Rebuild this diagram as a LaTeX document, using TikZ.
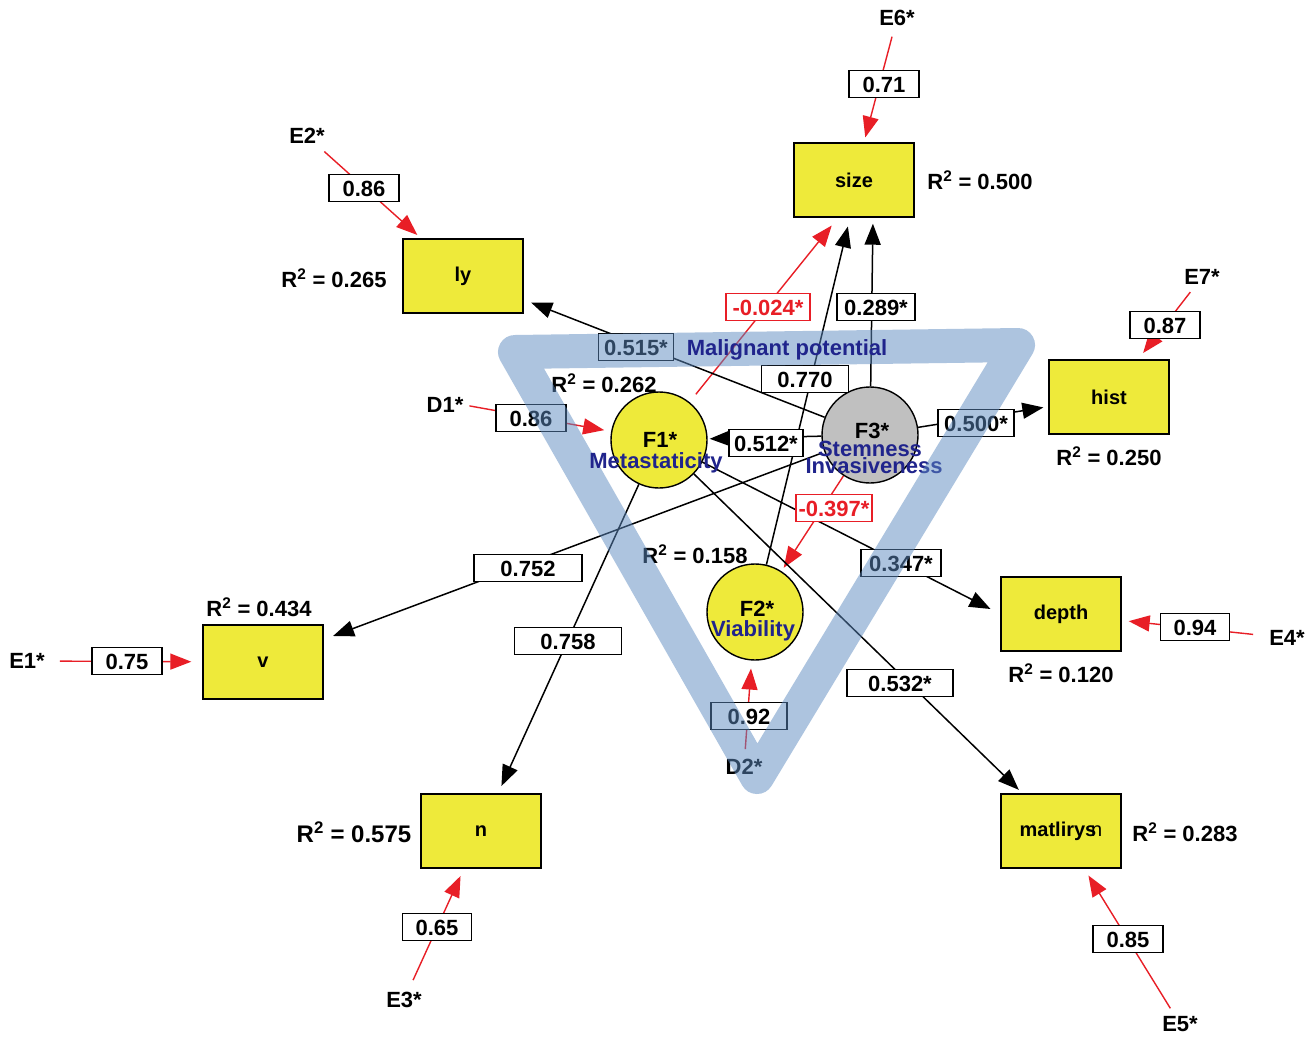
\documentclass[tikz,border=0pt]{standalone}
\usepackage{fontspec}
\setmainfont{Liberation Sans}
\usetikzlibrary{arrows.meta,calc,backgrounds}
\definecolor{myred}{RGB}{232,30,38}
\definecolor{myyel}{RGB}{238,234,58}
\definecolor{mygray}{RGB}{192,192,192}
\definecolor{mynavy}{RGB}{32,36,140}
\definecolor{myband}{RGB}{92,138,192}
\begin{document}
\begin{tikzpicture}[x=1pt,y=-1pt,
  font=\fontsize{22}{24}\selectfont\bfseries,
  box/.style={draw, line width=1.4pt, fill=myyel, minimum width=120pt, minimum height=74pt, inner sep=0pt, font=\fontsize{20}{22}\selectfont\bfseries},
  circ/.style={circle, draw, line width=1.4pt, minimum size=96pt, inner sep=0pt},
  lab/.style={draw, line width=1.3pt, fill=white, minimum height=27pt, inner sep=0pt, text height=16pt, text depth=0pt},
  rlab/.style={lab, draw=myred, text=myred},
  blk/.style={line width=1.5pt, -{Triangle[length=21pt,width=16pt]}},
  rd/.style={line width=1.4pt, color=myred, -{Triangle[length=21pt,width=16pt]}},
  txt/.style={inner sep=1pt},
  navy/.style={text=mynavy, inner sep=0pt},
]
\useasboundingbox (0,0) rectangle (1308,1036);

% observed variables
\node[box] (size) at (854,180) {size};
\node[box] (ly) at (463,276) {ly};
\node[box] (hist) at (1109,397) {hist};
\node[box] (depth) at (1061,614) {depth};
\node[box] (v) at (263,662) {v};
\node[box] (n) at (481,831) {n};
\node[box] (mat) at (1061,831) {matliry\rlap{s}\hspace{0.3em}{\mdseries n}};

% factors
\node[circ, fill=myyel] (F1) at (659,440) {};
\node[circ, fill=myyel] (F2) at (755,612) {};
\node[circ, fill=mygray] (F3) at (870,435) {};
\node[inner sep=0pt] (F1t) at (660,440) {F1*};
\node[inner sep=0pt] (F2t) at (757,609) {F2*};
\node[inner sep=0pt] (F3t) at (872,431) {F3*};

% error terms
\node[txt] (E6) at (897,18) {E6*};
\node[txt] (E2) at (307,136) {E2*};
\node[txt] (E7) at (1202,277) {E7*};
\node[txt] (E4) at (1287,638) {E4*};
\node[txt] (E5) at (1180,1024) {E5*};
\node[txt] (E3) at (404,1000) {E3*};
\node[txt] (E1) at (27,661) {E1*};
\node[txt] (D1) at (445,405) {D1*};

% R^2 labels
\node[txt] (rsize) at (980,180) {R\textsuperscript{2} = 0.500};
\node[txt] (rly) at (334,278) {R\textsuperscript{2} = 0.265};
\node[txt] (rhist) at (1109,456) {R\textsuperscript{2} = 0.250};
\node[txt] (rdepth) at (1061,673) {R\textsuperscript{2} = 0.120};
\node[txt] (rmat) at (1185,832) {R\textsuperscript{2} = 0.283};
\node[txt, font=\fontsize{24}{26}\selectfont\bfseries] (rn) at (354,832) {R\textsuperscript{2} = 0.575};
\node[txt] (rv) at (259,607) {R\textsuperscript{2} = 0.434};
\node[txt] (rF1) at (604,383) {R\textsuperscript{2} = 0.262};
\node[txt] (rF2) at (695,554) {R\textsuperscript{2} = 0.158};

\begin{pgfonlayer}{background}
\fill[white] (0,0) rectangle (1308,1036);
\draw[rd, shorten <=10pt, shorten >=10pt] (F1) -- ([xshift=-16pt]size.south);
\draw[blk, shorten >=9pt] (F2) -- ([xshift=-4pt]size.south);
\draw[blk, shorten >=6pt] (F3) -- ([xshift=19pt]size.south);
\draw[blk, shorten >=8pt] (F3) -- (ly);
\draw[blk, shorten >=5pt] (F3) -- (hist);
\draw[blk, shorten >=2pt] (F3) -- (F1);
\draw[rd, shorten >=4pt] (F3) -- (F2);
\draw[blk, shorten <=4pt, shorten >=10pt] (F3) -- (v);
\draw[blk, shorten >=8pt] (F1) -- (n);
\draw[blk, shorten >=11pt] (F1) -- (depth.west);
\draw[blk, shorten >=5pt] (F1) -- (mat);
\draw[rd, shorten <=10pt, shorten >=5pt] (E6) -- (size);
\draw[rd, shorten <=10pt, shorten >=5pt] (E2) -- (ly);
\draw[rd, shorten <=8pt, shorten >=8pt] (E7) -- (hist);
\draw[rd, shorten <=15pt, shorten >=7pt] (E4) -- (depth);
\draw[rd, shorten <=8pt, shorten >=8pt] (E5) -- (mat);
\draw[rd, shorten <=12pt, shorten >=8pt] (E3) -- (n);
\draw[rd, shorten <=14pt, shorten >=11pt] (E1) -- (v);
\draw[rd, shorten <=5pt, shorten >=7pt] (D1.east) -- (F1);
\end{pgfonlayer}

% path coefficient labels
\node[lab, minimum width=70pt] (l71) at (884,84) {0.71};
\node[lab, minimum width=70pt] (l86a) at (364,188) {0.86};
\node[lab, minimum width=70pt] (l87) at (1165,325) {0.87};
\node[lab, minimum width=69pt] (l94) at (1195,627) {0.94};
\node[lab, minimum width=70pt] (l85) at (1128,939) {0.85};
\node[lab, minimum width=69pt] (l65) at (437,927) {0.65};
\node[lab, minimum width=70pt] (l75) at (127,661) {0.75};
\node[lab, minimum width=70pt] (l86b) at (531,418) {0.86};
\node[rlab, minimum width=84pt] (l024) at (768,307) {-0.024*};
\node[lab, minimum width=78pt] (l289) at (876,307) {0.289*};
\node[lab, minimum width=87pt] (l770) at (805,379) {0.770};
\node[lab, minimum width=75pt] (l515) at (636,347) {0.515*};
\node[lab, minimum width=76pt] (l500) at (976,423) {0.500*};
\node[lab, minimum width=74pt] (l512) at (766,443) {0.512*};
\node[rlab, minimum width=76pt] (l397) at (834,508) {-0.397*};
\node[lab, minimum width=108pt] (l752) at (528,568) {0.752};
\node[lab, minimum width=107pt] (l758) at (568,641) {0.758};
\node[lab, minimum width=80pt] (l347) at (901,563) {0.347*};
\node[lab, minimum width=106pt] (l532) at (900,683) {0.532*};

% D2 and its path (under the band)
\node[txt] (D2) at (744,767) {D2*};
\draw[rd, shorten <=9pt, shorten >=8pt] (D2) -- (F2);
\node[lab, minimum width=76pt] (l92) at (749,716) {0.92};
\node[navy] (inv) at (874,466) {Invasiveness};

% translucent band
\draw[myband, opacity=0.5, line width=34pt, line join=round] (515,352) -- (1018,345) -- (757,777) -- cycle;

% factor names
\node[navy] (malig) at (787,350) {Malignant potential};
\node[navy] (meta) at (656,463) {Metastaticity};
\node[navy] (stem) at (870,449) {Stemness};
\node[navy] (via) at (753,631) {Viability};
\end{tikzpicture}
\end{document}
